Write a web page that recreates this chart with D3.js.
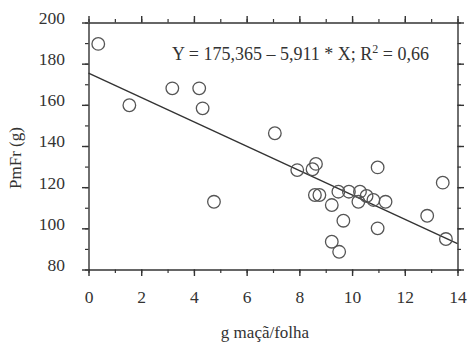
<!DOCTYPE html>
<html><head><meta charset="utf-8">
<script src="https://cdn.jsdelivr.net/npm/d3@7"></script>
<style>body{margin:0;background:#fff}svg{display:block}</style>
</head><body>
<svg id="c" width="468" height="342"></svg>
<script>
const xValues = [0.37,1.55,3.18,4.2,4.33,4.76,7.07,7.92,8.5,8.63,8.59,8.76,9.23,9.48,9.67,9.23,9.51,9.88,10.3,10.24,10.55,10.81,10.97,10.97,11.27,12.85,13.44,13.56];
const yValues = [189.6,159.8,168.0,168.0,158.3,112.9,146.2,128.3,128.7,131.3,116.2,116.2,111.3,117.8,103.7,93.5,88.6,117.8,117.8,112.9,115.7,113.8,129.6,100.0,112.9,106.1,122.2,94.8];
const xTicks = [0,2,4,6,8,10,12,14];
const yTicks = [80,100,120,140,160,180,200];
const xMinor = d3.range(0,15,1);
const yMinor = d3.range(80,201,10);
const intercept = 175.365, slope = -5.911;
const eqMain = "Y = 175,365 \u2013 5,911 * X; R";
const eqSup = "2";
const eqTail = " = 0,66";
const xTitle = "g maçã/folha";
const yTitle = "PmFr (g)";

const svg = d3.select("#c");
const L=88.5, R=457.5, T=22.5, B=269.5;
const x = d3.scaleLinear().domain([0,14]).range([L,R]);
const y = d3.scaleLinear().domain([80,200]).range([B,T]);
const axisColor="#333", font="'Liberation Serif', 'Times New Roman', serif";

function styleAxis(g){
  g.select(".domain").attr("stroke",axisColor).attr("stroke-width",1.4);
  g.selectAll(".tick line").attr("stroke",axisColor).attr("stroke-width",1.4);
  g.selectAll("text").attr("font-family",font).attr("font-size",17.5).attr("fill","#333");
}
function minor(g){ g.select(".domain").remove(); g.selectAll("text").remove(); g.selectAll(".tick line").attr("stroke",axisColor).attr("stroke-width",1.2); }

// minor ticks
svg.append("g").attr("transform",`translate(0,${B})`).call(d3.axisBottom(x).tickValues(xMinor).tickSize(3.5).tickFormat("")).call(minor);
svg.append("g").attr("transform",`translate(0,${T})`).call(d3.axisTop(x).tickValues(xMinor).tickSize(3.5).tickFormat("")).call(minor);
svg.append("g").attr("transform",`translate(${L},0)`).call(d3.axisLeft(y).tickValues(yMinor).tickSize(3.5).tickFormat("")).call(minor);
svg.append("g").attr("transform",`translate(${R},0)`).call(d3.axisRight(y).tickValues(yMinor).tickSize(3.5).tickFormat("")).call(minor);

// major
svg.append("g").attr("transform",`translate(0,${B})`).call(d3.axisBottom(x).tickValues(xTicks).tickSize(6.5).tickSizeOuter(0).tickPadding(15)).call(styleAxis);
svg.append("g").attr("transform",`translate(0,${T})`).call(d3.axisTop(x).tickValues(xTicks).tickSize(6.5).tickSizeOuter(0).tickFormat("")).call(styleAxis);
svg.append("g").attr("transform",`translate(${L},0)`).call(d3.axisLeft(y).tickValues(yTicks).tickSize(6.5).tickSizeOuter(0).tickPadding(17))
  .call(styleAxis).call(g=>g.selectAll("text").attr("dy","0.05em"));
svg.append("g").attr("transform",`translate(${R},0)`).call(d3.axisRight(y).tickValues(yTicks).tickSize(6.5).tickSizeOuter(0).tickFormat("")).call(styleAxis);

// regression line
svg.append("line").attr("x1",x(0)).attr("y1",y(intercept)).attr("x2",x(14)).attr("y2",y(intercept+slope*14))
  .attr("stroke","#333").attr("stroke-width",1.4);

// points
svg.append("g").selectAll("circle").data(xValues.map((v,i)=>[v,yValues[i]])).join("circle")
  .attr("cx",d=>x(d[0])).attr("cy",d=>y(d[1])).attr("r",6.3)
  .attr("fill","none").attr("stroke","#555").attr("stroke-width",1.3);

// equation
const eq = svg.append("text").attr("x",172).attr("y",60).attr("font-family",font).attr("font-size",18).attr("fill","#333");
eq.append("tspan").text(eqMain);
eq.append("tspan").attr("dy",-7).attr("font-size",12).text(eqSup);
eq.append("tspan").attr("dy",7).text(eqTail);

svg.append("text").attr("x",265).attr("y",338).attr("text-anchor","middle").attr("font-family",font).attr("font-size",17).attr("fill","#333").text(xTitle);
svg.append("text").attr("transform","translate(21,158) rotate(-90)").attr("text-anchor","middle").attr("font-family",font).attr("font-size",17).attr("fill","#333").text(yTitle);
</script>
</body></html>
